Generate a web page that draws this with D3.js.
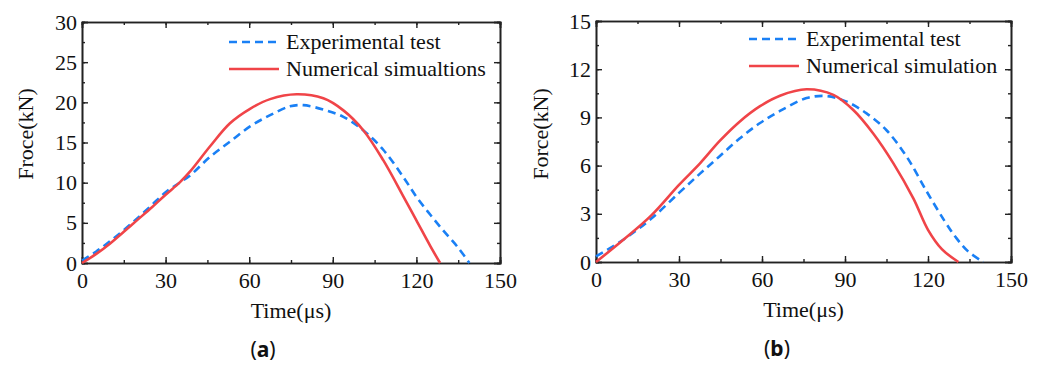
<!DOCTYPE html>
<html>
<head>
<meta charset="utf-8">
<script src="https://cdn.jsdelivr.net/npm/d3@7"></script>
<style>
  body { margin: 0; background: #fff; }
  svg text { font-family: "Liberation Serif", "Times New Roman", serif; fill: #111; }
  svg text.caption { font-family: "Noto Sans", sans-serif; }
</style>
</head>
<body>
<svg id="fig" width="1044" height="367"></svg>
<script>
// panel (a)
var timeA = [0, 5, 10, 15, 20, 25, 30, 35, 38.8, 45.9, 53.1, 60.3, 67.5, 77, 86.6, 93.8, 101, 108.1, 115.3, 120, 125, 128.5];
var simA  = [0, 1.1, 2.4, 3.9, 5.4, 6.9, 8.5, 10.0, 11.4, 14.5, 17.4, 19.2, 20.4, 21.0, 20.5, 19.0, 16.5, 12.8, 8.3, 5.3, 2.1, 0];
var timeAe = [0, 5, 10, 15, 20, 25, 30, 35, 38.8, 45.9, 53.1, 60.3, 67.5, 74.6, 79.4, 86.6, 93.8, 101, 108.1, 115.3, 120.1, 125, 130, 135, 139];
var expA   = [0.3, 1.4, 2.7, 4.1, 5.6, 7.2, 8.8, 10.0, 10.9, 13.2, 15.1, 17.0, 18.4, 19.5, 19.65, 19.1, 18.2, 16.5, 14.1, 10.7, 8.2, 6.0, 3.9, 1.9, 0];

// panel (b)
var timeB = [0, 10, 20, 30, 37.6, 44.8, 52, 59.3, 66.5, 76.1, 85.8, 93, 100.2, 107.5, 114.7, 120, 125, 131];
var simB  = [0, 1.4, 2.9, 4.8, 6.14, 7.55, 8.75, 9.7, 10.35, 10.75, 10.4, 9.46, 8.0, 6.14, 3.96, 2.0, 0.8, 0];
var timeBe = [0, 10, 20, 30, 37.6, 44.8, 52, 59.3, 66.5, 76.1, 83.4, 90.6, 97.8, 105, 112.3, 119.5, 126, 130.2, 134.5, 140];
var expB   = [0.35, 1.4, 2.7, 4.3, 5.5, 6.6, 7.7, 8.65, 9.4, 10.2, 10.33, 9.98, 9.25, 8.2, 6.55, 4.4, 2.55, 1.5, 0.66, 0];

var xTicks = [0, 30, 60, 90, 120, 150];
var yTicksA = [0, 5, 10, 15, 20, 25, 30];
var yTicksB = [0, 3, 6, 9, 12, 15];

var svg = d3.select('#fig');
var serif = '"Liberation Serif", "Times New Roman", serif';

function zip(xs, ys) {
    return xs.map(function(x, i) { return { x: x, y: ys[i] }; });
}

function drawPanel(opt) {
    var g = svg.append('g');
    var x = d3.scaleLinear().domain([0, 150]).range([opt.left, opt.right]);
    var y = d3.scaleLinear().domain([0, opt.yMax]).range([opt.bottom, opt.top]);

    var minorX = d3.range(0, 151, 15);
    var minorY = d3.range(0, opt.yMax + 0.001, opt.yStep / 2);

    // inward ticks on all four sides
    g.append('g').attr('transform', 'translate(0,' + opt.bottom + ')')
        .call(d3.axisBottom(x).tickValues(minorX).tickSize(-3).tickFormat(''));
    g.append('g').attr('transform', 'translate(0,' + opt.bottom + ')')
        .call(d3.axisBottom(x).tickValues(xTicks).tickSize(-6).tickPadding(9).tickFormat(d3.format('d')));
    g.append('g').attr('transform', 'translate(0,' + opt.top + ')')
        .call(d3.axisTop(x).tickValues(minorX).tickSize(-3).tickFormat(''));
    g.append('g').attr('transform', 'translate(0,' + opt.top + ')')
        .call(d3.axisTop(x).tickValues(xTicks).tickSize(-6).tickFormat(''));

    g.append('g').attr('transform', 'translate(' + opt.left + ',0)')
        .call(d3.axisLeft(y).tickValues(minorY).tickSize(-3).tickFormat(''));
    g.append('g').attr('transform', 'translate(' + opt.left + ',0)')
        .call(d3.axisLeft(y).tickValues(opt.yTicks).tickSize(-6).tickPadding(5).tickFormat(d3.format('d')));
    g.append('g').attr('transform', 'translate(' + opt.right + ',0)')
        .call(d3.axisRight(y).tickValues(minorY).tickSize(-3).tickFormat(''));
    g.append('g').attr('transform', 'translate(' + opt.right + ',0)')
        .call(d3.axisRight(y).tickValues(opt.yTicks).tickSize(-6).tickFormat(''));

    g.selectAll('.domain').attr('stroke', '#222').attr('stroke-width', 1.6);
    g.selectAll('.tick line').attr('stroke', '#222').attr('stroke-width', 1.4);
    g.selectAll('.tick text')
        .style('font-family', serif).style('font-size', '22px').style('fill', '#111');

    var line = d3.line()
        .x(function(d) { return x(d.x); })
        .y(function(d) { return y(d.y); })
        .curve(d3.curveCatmullRom.alpha(0.5));

    g.append('path').datum(zip(opt.expT, opt.exp))
        .attr('d', line).attr('fill', 'none')
        .attr('stroke', '#1a80f5').attr('stroke-width', 2.6)
        .attr('stroke-dasharray', '8,5');
    g.append('path').datum(zip(opt.simT, opt.sim))
        .attr('d', line).attr('fill', 'none')
        .attr('stroke', '#f04448').attr('stroke-width', 2.6);

    // legend
    var lg = g.append('g');
    lg.append('line').attr('x1', opt.legX).attr('x2', opt.legX + 50)
        .attr('y1', opt.legY).attr('y2', opt.legY)
        .attr('stroke', '#1a80f5').attr('stroke-width', 2.6).attr('stroke-dasharray', '8,5');
    lg.append('text').attr('x', opt.legX + 57).attr('y', opt.legY + 7)
        .attr('font-size', 22).text('Experimental test');
    lg.append('line').attr('x1', opt.legX).attr('x2', opt.legX + 50)
        .attr('y1', opt.legY + 27).attr('y2', opt.legY + 27)
        .attr('stroke', '#f04448').attr('stroke-width', 2.6);
    lg.append('text').attr('x', opt.legX + 57).attr('y', opt.legY + 34)
        .attr('font-size', 22).text(opt.simLabel);

    // axis titles
    g.append('text').attr('x', (opt.left + opt.right) / 2).attr('y', opt.bottom + 55)
        .attr('text-anchor', 'middle').attr('font-size', 22).text('Time(μs)');
    g.append('text')
        .attr('transform', 'translate(' + opt.yTitleX + ',134) rotate(-90)')
        .attr('text-anchor', 'middle').attr('font-size', 22).text(opt.yTitle);

    // caption
    var cap = g.append('text').attr('class', 'caption')
        .attr('x', opt.capX).attr('y', opt.bottom + 94)
        .attr('text-anchor', 'middle').attr('font-size', 21);
    cap.append('tspan').text('(');
    cap.append('tspan').attr('font-weight', 'bold').text(opt.cap);
    cap.append('tspan').text(')');
}

drawPanel({
    left: 82, right: 500, top: 22, bottom: 263,
    yMax: 30, yStep: 5, yTicks: yTicksA,
    simT: timeA, sim: simA, expT: timeAe, exp: expA,
    simLabel: 'Numerical simualtions', yTitle: 'Froce(kN)',
    legX: 229, legY: 42, yTitleX: 33, capX: 263, cap: 'a'
});

drawPanel({
    left: 596, right: 1011, top: 21, bottom: 262,
    yMax: 15, yStep: 3, yTicks: yTicksB,
    simT: timeB, sim: simB, expT: timeBe, exp: expB,
    simLabel: 'Numerical simulation', yTitle: 'Force(kN)',
    legX: 749, legY: 39, yTitleX: 548, capX: 777, cap: 'b'
});
</script>
</body>
</html>
